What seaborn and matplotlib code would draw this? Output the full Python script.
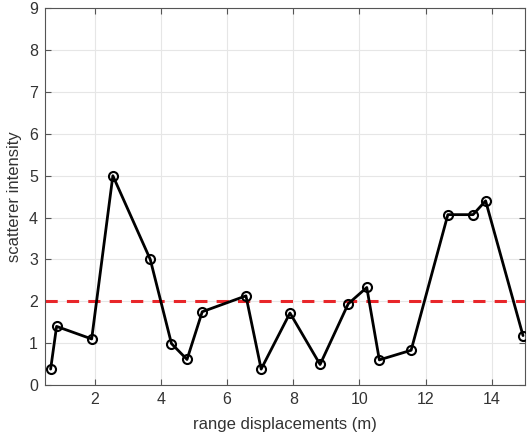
import matplotlib
matplotlib.use("Agg")
import matplotlib.pyplot as plt
import seaborn as sns
import pandas as pd

# Data
range_m = [0.67, 0.85, 1.91, 2.55, 3.68, 4.32, 4.79, 5.25, 6.57, 7.03, 7.90,
           8.81, 9.66, 10.22, 10.60, 11.56, 12.67, 13.43, 13.81, 14.94]
intensity = [0.38, 1.40, 1.10, 5.00, 3.00, 0.99, 0.61, 1.75, 2.13, 0.38, 1.72,
             0.49, 1.94, 2.33, 0.60, 0.83, 4.07, 4.07, 4.40, 1.18]
threshold_x = [0.5, 15.0]
threshold_y = [2.0, 2.0]
x_ticks = [2, 4, 6, 8, 10, 12, 14]
y_ticks = [0, 1, 2, 3, 4, 5, 6, 7, 8, 9]

sns.set_theme(style="white")
plt.rcParams['font.family'] = ['Liberation Sans', 'DejaVu Sans']

fig = plt.figure(figsize=(5.28, 4.38), dpi=100)
ax = fig.add_axes([45/528, 1 - 385/438, (525-45)/528, (385-8.3)/438])

df = pd.DataFrame({"x": range_m, "y": intensity})
thr = pd.DataFrame({"x": threshold_x, "y": threshold_y})

sns.lineplot(data=df, x="x", y="y", ax=ax, color="black", linewidth=2.0,
             marker="o", markersize=6.5, markerfacecolor="none",
             markeredgecolor="black", markeredgewidth=1.5, sort=False, zorder=3)
sns.lineplot(data=thr, x="x", y="y", ax=ax, color="#e8262a", linewidth=2.2,
             linestyle=(0, (4, 3)), zorder=2)

ax.set_xlim(0.5, 15.0)
ax.set_ylim(0, 9)
ax.set_xticks(x_ticks)
ax.set_yticks(y_ticks)
ax.grid(True, color="#e6e6e6", linewidth=0.8)
ax.set_axisbelow(True)
for s in ax.spines.values():
    s.set_color("#555555")
    s.set_linewidth(0.8)
ax.tick_params(direction="in", length=4, width=0.8, color="#555555",
               labelsize=11.5, labelcolor="#333333", top=True, right=True,
               bottom=True, left=True, pad=5)
ax.tick_params(axis="x", labeltop=False)
ax.tick_params(axis="y", labelright=False)
ax.set_xlabel("range displacements (m)", fontsize=12, color="#333333", labelpad=7)
ax.set_ylabel("scatterer intensity", fontsize=12, color="#333333", labelpad=5)

fig.savefig("out.png", dpi=100)
